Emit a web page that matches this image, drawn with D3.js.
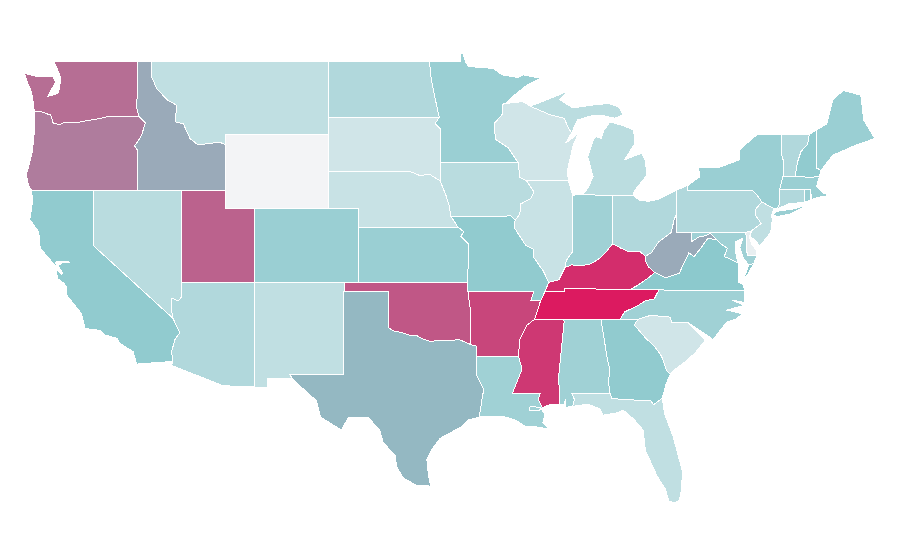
<!DOCTYPE html>
<html>
<head>
<meta charset="utf-8">
<style>
html, body { margin: 0; background: #fff; }
svg { display: block; }
.state { stroke: #fff; stroke-width: 1; shape-rendering: crispEdges; }
</style>
</head>
<body>
<script src="https://d3js.org/d3.v7.min.js"></script>
<script>

var width = 900,
    height = 560;

var stateIds = ["WA","OR","CA","ID","NV","MT","WY","UT","AZ","CO","NM","ND","SD","NE","KS","OK","TX","MN","IA","MO","AR","LA","WI","IL","MI","IN","OH","KY","TN","MS","AL","GA","FL","SC","NC","VA","WV","MD","DE","PA","NJ","NY","CT","RI","MA","VT","NH","ME"];
var stateValues = [152,144,95,118,56,50,0,159,64,86,50,64,34,42,86,165,110,86,56,95,175,81,34,42,54,81,64,189,200,183,81,95,50,34,81,100,118,81,11,64,50,86,64,86,86,64,95,86];

// shared borders, lon/lat
var columbia = [[-124,46.25],[-123.5,46.25],[-123.2,46.15],[-122.9,46.08],[-122.8,45.85],[-122.75,45.65],[-122.3,45.55],[-121.9,45.68],[-121.2,45.65],[-120.6,45.74],[-120,45.82],[-119.3,45.93],[-119,46],[-116.92,46]];
var snake = [[-116.92,46],[-116.48,45.65],[-116.7,45.05],[-116.85,44.8],[-117.2,44.4],[-117.03,44.2],[-117.03,42]];
var bitterroot = [[-116.05,49],[-116.05,48.15],[-115.7,47.5],[-115,46.9],[-114.35,46.6],[-114.45,45.7],[-113.9,45.6],[-113.45,44.8],[-112.9,44.45],[-111.45,44.6],[-111.05,44.47]];
var coloradoRiver = [[-114.04,37],[-114.04,36.2],[-114.24,36],[-114.7,36.15],[-114.72,35.6],[-114.6,35.05],[-114.15,34.27],[-114.47,33.9],[-114.7,33.24],[-114.6,32.72]];
var redRiver = [[-100,34.56],[-99.7,34.38],[-99.2,34.3],[-98.6,34.15],[-98.1,34.12],[-97.7,33.95],[-97.2,33.8],[-96.6,33.85],[-95.8,33.85],[-95.2,33.9],[-94.48,33.64]];
var sabine = [[-94.04,33],[-94.04,31.99],[-93.55,31.2],[-93.7,30.5],[-93.85,29.7]];
var missouriLow = [[-96.5,42.5],[-96.1,41.7],[-95.9,41.2],[-95.77,40.58]];
var upperMiss = [[-92.3,46.65],[-92.3,46.1],[-92.85,45.6],[-92.75,44.75],[-91.9,44.3],[-91.22,43.5]];
var iowaMiss = [[-91.22,43.5],[-91.1,42.7],[-90.64,42.5]];
var illinoisIa = [[-90.64,42.5],[-90.15,41.9],[-90.35,41.55],[-91.05,41.25],[-91.1,40.7],[-91.42,40.38]];
var illinoisMo = [[-91.42,40.38],[-91.5,40],[-90.7,39],[-90.2,38.8],[-90.2,38.4],[-89.5,37.6],[-89.15,37]];
var lowerMissAr = [[-89.7,36],[-90.1,35],[-90.6,34.7],[-91.1,33.9],[-91.2,33]];
var lowerMissLa = [[-91.2,33],[-90.95,32.3],[-91.6,31]];
var pearl = [[-89.73,31],[-89.85,30.65],[-89.55,30.18]];
var ohioKy = [[-88.05,37.8],[-87.6,37.95],[-87,37.9],[-86.3,38],[-85.7,38.3],[-85.2,38.7],[-84.82,39.1]];
var ohioKyEast = [[-84.82,39.1],[-84.25,38.85],[-83.7,38.65],[-83,38.7],[-82.6,38.42]];
var wabash = [[-87.53,41.72],[-87.53,39.3],[-87.5,38.7],[-87.95,38.2],[-88.05,37.8]];
var ilKyOhio = [[-88.05,37.8],[-88.45,37.15],[-89.15,37]];
var ohioWv = [[-82.6,38.42],[-82.2,38.6],[-81.7,39.2],[-80.85,39.7],[-80.65,40.4],[-80.52,40.64]];
var tugFork = [[-81.97,37.54],[-82.4,37.85],[-82.6,38.17],[-82.6,38.42]];
var kyVa = [[-83.68,36.6],[-83.1,36.85],[-82.3,37.3],[-81.97,37.54]];
var wvVa = [[-81.97,37.54],[-81.2,37.25],[-80.3,37.5],[-79.65,38.6],[-79.3,38.4],[-78.9,38.8],[-78.35,39.4],[-77.75,39.3]];
var potomacWv = [[-77.75,39.3],[-78.2,39.65],[-78.45,39.55],[-79,39.45],[-79.48,39.2],[-79.48,39.72]];
var potomacVa = [[-77.75,39.3],[-77.5,39.1],[-77.05,38.85],[-77.25,38.4],[-76.95,38.3],[-76.3,38.05]];
var tnNc = [[-81.68,36.59],[-82,36.1],[-82.6,36],[-83.1,35.75],[-84,35.4],[-84.32,34.99]];
var savannah = [[-83.1,35],[-83.35,34.7],[-82.6,34],[-81.95,33.5],[-81.5,33],[-81.15,32.2],[-80.9,32.03]];
var ncSc = [[-83.1,35],[-82.3,35.2],[-81.05,35.15],[-80.93,35.1],[-80.8,34.82],[-79.68,34.8],[-78.55,33.86]];
var chattahoochee = [[-85.6,34.98],[-85.18,32.87],[-85,32.3],[-85.1,31.6],[-85,31]];
var delaware = [[-74.7,41.36],[-75.1,41],[-75.15,40.65],[-74.75,40.2],[-75.4,39.8]];
var nyPaRiver = [[-75.35,42],[-75.05,41.75],[-74.7,41.36]];
var vtNh = [[-71.5,45.01],[-71.6,44.5],[-72.05,44.1],[-72.3,43.5],[-72.46,42.73]];
var wiMi = [[-90.4,46.55],[-89.1,46.1],[-88.1,45.9],[-87.8,45.35],[-87.6,45.1]];

function back(arc) { return arc.slice().reverse(); }

var stateRings = [
  // WA
  [[...columbia, [-117.04,46.42],[-117.03,49],[-122.7,49],[-122.45,48.6],[-122.2,48.07],[-122.3,47.5],[-122.4,47.25],[-123.1,47.07],[-122.95,47.3],[-122.55,47.85],[-122.75,48.15],[-123.1,48.15],[-123.9,48.17],[-124.65,48.33],[-124.5,47.9],[-124.2,47.35],[-124.05,46.7]]],
  // OR
  [[...columbia, ...snake.slice(1), [-120,42],[-124.2,42],[-124.4,42.3],[-124.55,42.85],[-124.4,43.2],[-124.15,44],[-124.05,44.7],[-123.95,45.5]]],
  // CA
  [[[-124.2,42],[-120,42],[-120,39],[-114.6,35.05],[-114.15,34.27],[-114.47,33.9],[-114.7,33.24],[-114.6,32.72],[-117.06,32.57],[-117.3,33.24],[-118.2,33.7],[-118.4,33.97],[-119.2,34.15],[-119.55,34.4],[-120.55,34.5],[-120.8,35.3],[-121.8,36.3],[-121.8,36.75],[-122,36.95],[-122.4,37.2],[-122.55,37.75],[-122.15,37.45],[-122.05,37.5],[-122.4,37.9],[-122.1,38.05],[-121.55,38.1],[-122.2,38.15],[-122.55,38.1],[-122.5,37.85],[-122.9,38.2],[-123.6,38.86],[-123.7,39.75],[-124.3,40.4],[-124.1,41.5]],
   [[-120.1,34.02],[-119.85,34.04],[-119.9,33.97]],[[-119.75,34.03],[-119.55,34.04],[-119.6,33.98]]],
  // ID
  [[...bitterroot, [-111.05,42],...back(snake), [-117.04,46.42],[-117.03,49]]],
  // NV
  [[[-120,42],[-114.04,42],...coloradoRiver.slice(0,6),[-120,39]]],
  // MT
  [[...bitterroot, [-111.05,45],[-104.05,45],[-104.05,49]]],
  // WY
  [[[-111.05,45],[-104.05,45],[-104.05,41],[-111.05,41]]],
  // UT
  [[[-114.04,42],[-111.05,42],[-111.05,41],[-109.05,41],[-109.05,37],[-114.04,37]]],
  // AZ
  [[...coloradoRiver, [-114.7,32.5],[-111.2,31.4],[-109.05,31.33],[-109.05,37]]],
  // CO
  [[[-109.05,41],[-102.05,41],[-102.05,37],[-109.05,37]]],
  // NM
  [[[-109.05,37],[-103,37],[-103.05,32],[-106.6,32],[-106.5,31.78],[-108.2,31.78],[-108.2,31.33],[-109.05,31.33]]],
  // ND
  [[[-104.05,49],[-97.23,49],[-97.1,48],[-96.85,47],[-96.56,45.94],[-104.05,45.94]]],
  // SD
  [[[-104.05,45.94],[-96.56,45.94],[-96.85,45.6],[-96.45,45.3],[-96.45,43.5],[-96.5,42.5],[-97.2,42.85],[-97.9,42.8],[-98.5,43],[-104.05,43]]],
  // NE
  [[[-104.05,43],[-98.5,43],[-97.9,42.8],[-97.2,42.85],...missouriLow,[-95.3,40],[-102.05,40],[-102.05,41],[-104.05,41]]],
  // KS
  [[[-102.05,40],[-95.3,40],[-94.9,39.75],[-95.1,39.5],[-94.6,39.1],[-94.62,37],[-102.05,37]]],
  // OK
  [[[-103,37],[-94.62,37],[-94.62,36.5],[-94.43,35.4],...back(redRiver),[-100,36.5],[-103,36.5]]],
  // TX
  [[[-103.04,36.5],[-100,36.5],...redRiver,[-94.04,33.55],...sabine,[-94.6,29.55],[-95.04,29.18],[-95.7,28.9],[-96.5,28.55],[-97.1,27.9],[-97.4,27.4],[-97.3,26.6],[-97.15,25.96],[-98.1,26],[-99,26.4],[-99.44,27],[-99.56,27.65],[-100.35,28.3],[-100.6,29],[-101.4,29.7],[-102.7,29.7],[-103.2,29],[-104.6,29.7],[-104.9,30.6],[-106.5,31.75],[-106.67,32],[-103.05,32]]],
  // MN
  [[[-97.23,49],[-95.15,49],[-95.15,49.38],[-94.95,49.38],[-94.8,49],[-94.6,48.7],[-92.9,48.6],[-92.3,48.25],[-91.2,48.1],[-90.9,48.25],[-89.7,48.06],[-90.6,47.7],[-91.4,47.2],[-92.05,46.7],...upperMiss,[-96.45,43.5],[-96.45,45.3],[-96.85,45.6],[-96.56,45.94],[-96.85,47],[-97.1,48]]],
  // IA
  [[[-96.45,43.5],...iowaMiss,...illinoisIa.slice(1),[-91.7,40.6],[-95.77,40.58],[-95.9,41.2],[-96.1,41.7],[-96.5,42.5]]],
  // MO
  [[[-95.77,40.58],[-91.7,40.6],...illinoisMo,[-89.4,36.5],[-89.7,36],[-90.37,36],[-90.15,36.5],[-94.62,36.5],[-94.62,37],[-94.6,39.1],[-95.1,39.5],[-94.9,39.75],[-95.3,40]]],
  // AR
  [[[-94.62,36.5],[-90.15,36.5],[-90.37,36],...lowerMissAr,[-94.04,33],[-94.04,33.55],[-94.48,33.64],[-94.43,35.4]]],
  // LA
  [[[-94.04,33],[-91.2,33],...lowerMissLa.slice(1),...pearl,[-89.85,30.05],[-90.45,30.05],[-90.4,30.3],[-89.7,30.2],[-89.4,29.85],[-89.55,29.4],[-89.15,29.05],[-90.2,29.2],[-90.75,29.2],[-91.3,29.5],[-92,29.7],[-93.35,29.75],...back(sabine)]],
  // WI
  [[[-92.3,46.65],[-92.05,46.7],[-90.9,46.8],[-90.4,46.55],...wiMi,[-88,44.55],[-87.4,44.9],[-87.05,45.25],[-87.5,44.4],[-87.7,43.7],[-87.9,43],[-87.8,42.5],[-90.64,42.5],[-91.1,42.7],...back(upperMiss)]],
  // IL
  [[...illinoisIa,...illinoisMo.slice(1),...back(ilKyOhio).slice(1),...back(wabash).slice(1),[-87.8,42.5]]],
  // MI
  [[[-86.82,41.76],[-84.8,41.7],[-83.45,41.73],[-83.3,42],[-82.5,42.8],[-82.6,43.6],[-82.85,44],[-84,43.65],[-83.3,44.55],[-83.4,45.26],[-84.1,45.5],[-85,45.7],[-85.4,45.25],[-85.6,44.8],[-85.95,44.9],[-86.14,44.7],[-86.5,43.8],[-86.14,42.73],[-86.5,42.1]],
   [...wiMi,[-87.2,45.8],[-86.1,46.07],[-85.5,46.05],[-84.7,45.9],[-84.1,46.07],[-84.4,46.5],[-85.1,46.7],[-86.35,46.6],[-87.5,46.45],[-88.4,46.9],[-87.85,47.4],[-88.5,47.15],[-89.1,46.95]],
   [[-89.2,47.85],[-88.5,48.15],[-88.6,48.05]]],
  // IN
  [[...wabash,...ohioKy,[-84.8,41.7],[-86.82,41.76],[-87.2,41.76]]],
  // OH
  [[[-84.8,41.7],[-83.45,41.73],[-83,41.45],[-82.4,41.4],[-81.7,41.5],[-80.52,41.98],...back(ohioWv),...back(ohioKyEast).slice(1)]],
  // KY
  [[[-89.4,36.5],[-88.07,36.5],[-88.05,36.68],...kyVa,...tugFork.slice(1),...back(ohioKyEast).slice(1),...back(ohioKy).slice(1),...ilKyOhio.slice(1)]],
  // TN
  [[[-90.1,35],[-89.7,36],[-89.4,36.5],[-88.07,36.5],[-88.05,36.68],[-83.68,36.6],...tnNc]],
  // MS
  [[[-90.1,35],[-88.2,35],[-88.1,34.9],[-88.47,31.9],[-88.4,30.37],[-88.9,30.4],[-89.35,30.3],...back(pearl),...back(lowerMissLa),[-91.1,33.9],[-90.6,34.7]]],
  // AL
  [[[-88.2,35],...chattahoochee,[-87.6,31],[-87.4,30.65],[-87.52,30.28],[-88,30.23],[-88,30.65],[-88.15,30.35],[-88.4,30.37],[-88.47,31.9],[-88.1,34.9]]],
  // GA
  [[...chattahoochee,[-84.86,30.7],[-82.2,30.57],[-82.05,30.36],[-81.45,30.72],[-81.2,31.5],...back(savannah),[-84.32,34.99]]],
  // FL
  [[[-87.6,31],[-85,31],[-84.86,30.7],[-82.2,30.57],[-82.05,30.36],[-81.45,30.72],[-81.3,29.9],[-80.7,28.6],[-80.1,26.8],[-80.13,25.8],[-80.3,25.2],[-80.6,25.05],[-81,25.15],[-81.25,25.8],[-81.8,26.5],[-82.6,27.9],[-82.75,29],[-83.4,29.6],[-84.1,30.08],[-84.4,29.95],[-85.45,29.8],[-85.7,30.15],[-86.5,30.4],[-87.52,30.28],[-87.4,30.65]]],
  // SC
  [[...ncSc,[-79.2,33.2],[-79.9,32.7],[-80.65,32.25],...back(savannah)]],
  // NC
  [[[-84.32,34.99],[-84,35.4],[-83.1,35.75],[-82.6,36],[-82,36.1],[-81.68,36.59],[-75.87,36.55],[-75.85,35.9],[-76.75,36.05],[-75.9,35.75],[-77.1,35.5],[-76,35.3],[-76.5,35],[-77.1,34.85],[-78,33.9],...back(ncSc).slice(1)]],
  // VA
  [[...kyVa,...wvVa.slice(1),...potomacVa.slice(1),[-76.3,37.55],[-76.3,37],[-76,36.92],[-75.87,36.55],[-81.68,36.59]],
   [[-75.25,38.03],[-75.6,37.95],[-75.95,37.15],[-75.65,37.45]]],
  // WV
  [[[-80.52,40.64],[-80.52,39.72],...back(potomacWv),...back(wvVa).slice(1),...tugFork.slice(1),...ohioWv.slice(1,-1)]],
  // MD
  [[[-79.48,39.72],[-75.79,39.72],[-75.7,38.46],[-75.05,38.45],[-75.25,38.03],[-75.6,37.95],[-75.95,38.3],[-76.2,38.9],[-76,39.4],[-76.5,39.2],[-76.45,38.4],...back(potomacVa).slice(0,-1),...potomacWv.slice(0,-1)]],
  // DE
  [[[-75.79,39.72],[-75.4,39.8],[-75.55,39.5],[-75.4,39.05],[-75.1,38.78],[-75.05,38.45],[-75.7,38.46]]],
  // PA
  [[[-80.52,41.98],[-79.7,42.28],[-79.76,42],...nyPaRiver,...delaware.slice(1),[-75.79,39.72],[-80.52,39.72],[-80.52,40.64]]],
  // NJ
  [[...delaware,[-75.5,39.5],[-75.05,39.2],[-74.9,38.95],[-74.4,39.4],[-74.1,39.75],[-74,40.4],[-74.05,40.65],[-73.9,41]]],
  // NY
  [[[-79.7,42.28],[-78.9,42.73],[-79,43.25],[-77.55,43.25],[-76.2,43.65],[-76.2,44.2],[-75.05,45],[-73.35,45],[-73.4,44],[-73.25,43.6],[-73.27,42.75],[-73.5,42.05],[-73.5,41.3],[-73.65,41],[-73.9,41],...back(nyPaRiver),[-79.76,42]],
   [[-73.95,40.62],[-73.75,40.85],[-72.6,40.98],[-72.05,41.1],[-71.9,41.05],[-72.8,40.7],[-73.6,40.58]]],
  // CT
  [[[-73.5,42.05],[-71.85,42.02],[-71.85,41.35],[-72.9,41.25],[-73.65,41],[-73.5,41.3]]],
  // RI
  [[[-71.8,42.02],[-71.4,42.02],[-71.4,41.45],[-71.8,41.35]]],
  // MA
  [[[-73.5,42.05],[-73.27,42.75],[-72.46,42.73],[-71.3,42.7],[-70.8,42.75],[-71,42.2],[-70.55,41.85],[-70.1,41.72],[-70.8,41.62],[-71.35,41.5],[-71.4,42.02],[-71.85,42.02]]],
  // VT
  [[[-73.35,45],...vtNh,[-73.27,42.75],[-73.25,43.6],[-73.4,44]]],
  // NH
  [[...vtNh,[-71.3,42.7],[-70.8,42.75],[-70.7,43.07],[-71,43.2],[-71,45.26]]],
  // ME
  [[[-71,45.26],[-70.3,45.6],[-69.9,46.9],[-69.2,47.4],[-68,47.15],[-67.8,45.8],[-67.05,44.8],[-68.3,44.45],[-69.9,43.9],[-70.7,43.07],[-71,43.2]]]
];

var x = d3.scaleLinear().domain([-120, -67]).range([93.3, 875.6]);
var y = d3.scaleLinear().domain([49, 41]).range([61, 208.6]);

var color = d3.scaleLinear()
    .domain([0, 100, 200])
    .range(["#f3f4f6", "#8cc9cd", "#dc1a60"]);

var projection = d3.geoTransform({
  point: function(lon, lat) { this.stream.point(x(lon), y(lat)); }
});
var path = d3.geoPath().projection(projection);

// geoPath wants closed rings
var features = stateIds.map(function(id, i) {
  return {
    type: "Feature",
    id: id,
    properties: { value: stateValues[i] },
    geometry: {
      type: "MultiPolygon",
      coordinates: stateRings[i].map(function(r) { return [r.concat([r[0]])]; })
    }
  };
});

var svg = d3.select("body").append("svg")
    .attr("width", width)
    .attr("height", height);

svg.selectAll("path")
    .data(features)
  .enter().append("path")
    .attr("class", "state")
    .attr("d", path)
    .attr("fill", function(d) { return color(d.properties.value); });

</script>
</body>
</html>
